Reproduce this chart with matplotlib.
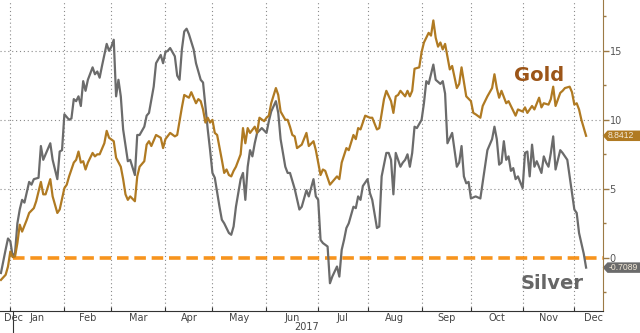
import numpy as np
import matplotlib
matplotlib.use("Agg")
import matplotlib.pyplot as plt
import matplotlib.transforms as mtransforms
from matplotlib.patches import Polygon

# trading sessions counted from the first session of 2017 (Mon 2 Jan 2017 = 0)
silver_day = [-5, -3, -2, -1, 0, 1, 2, 3, 4, 5, 7, 8, 9, 11, 12, 13, 14, 16, 17, 19,
              20, 21, 22, 24, 25, 26, 27, 28, 29, 30, 31, 32, 34, 35, 36, 37, 38, 40, 41, 42,
              43, 44, 45, 46, 47, 49, 50, 52, 53, 54, 56, 57, 58, 60, 61, 63, 64, 65, 66, 67,
              69, 70, 71, 72, 73, 74, 75, 77, 78, 80, 81, 82, 83, 84, 85, 86, 88, 89, 90, 92,
              93, 94, 95, 97, 98, 99, 100, 101, 102, 103, 104, 106, 108, 109, 110, 112, 113, 114, 116, 117,
              118, 120, 122, 123, 125, 126, 128, 129, 130, 131, 132, 134, 135, 136, 138, 139, 140, 141, 142, 143,
              145, 146, 147, 148, 149, 151, 152, 153, 155, 156, 157, 159, 160, 161, 162, 163, 165, 166, 167, 168,
              169, 170, 171, 172, 174, 175, 176, 177, 179, 180, 182, 183, 184, 185, 187, 189, 190, 191, 192, 193,
              194, 195, 197, 199, 201, 202, 204, 205, 206, 207, 208, 209, 210, 211, 212, 213, 214, 215, 217, 218,
              219, 220, 221, 222, 223, 225, 226, 227, 228, 229, 230, 231, 233, 234, 235, 236, 238, 239, 240, 241,
              243, 244]
silver_val = [-1.1, 0.6, 1.4, 1.2, 0.1, 0.35, 2.5, 3.5, 4.2, 4.0, 5.5, 5.3, 5.7, 5.8, 8.1, 7.1, 7.5, 8.3, 7.1, 5.7,
              7.7, 7.8, 10.4, 10.0, 10.1, 11.5, 11.35, 11.7, 11.0, 12.8, 12.1, 12.9, 13.8, 13.3, 13.5, 13.05, 13.9, 15.5, 15.0, 15.3,
              15.8, 11.7, 12.9, 11.7, 9.3, 7.0, 7.1, 6.0, 8.9, 8.9, 9.5, 10.3, 10.5, 12.4, 14.1, 14.7, 14.1, 14.9, 15.0, 15.2,
              14.6, 13.2, 12.9, 15.1, 16.4, 16.6, 16.2, 15.1, 14.1, 12.9, 12.7, 11.0, 9.3, 7.8, 6.15, 5.8, 3.7, 2.76, 2.5, 1.8,
              1.67, 2.27, 3.7, 5.7, 6.15, 4.2, 6.6, 7.8, 7.35, 8.3, 9.05, 9.4, 9.05, 9.9, 10.6, 11.35, 10.5, 8.6, 6.6, 6.15,
              6.15, 5.0, 3.5, 3.7, 4.9, 4.45, 5.7, 4.45, 4.2, 1.3, 1.07, 0.82, -1.84, -1.36, -0.63, -1.36, 0.58, 1.3, 2.16, 2.5,
              3.7, 3.6, 4.45, 4.2, 5.2, 5.7, 4.7, 4.2, 2.16, 2.27, 5.9, 7.6, 7.6, 7.1, 4.6, 7.6, 6.6, 6.9, 7.1, 7.5,
              6.6, 7.6, 9.5, 9.4, 10.0, 11.2, 12.8, 12.6, 14.0, 12.9, 12.6, 12.8, 11.9, 8.3, 9.05, 6.6, 6.9, 8.1, 5.9, 5.4,
              5.5, 4.3, 4.45, 4.3, 6.6, 7.8, 8.6, 9.5, 8.6, 6.75, 6.9, 8.45, 7.1, 7.35, 6.3, 6.5, 5.7, 5.9, 5.05, 7.6,
              7.7, 5.9, 8.2, 6.6, 7.0, 6.15, 7.35, 6.9, 6.6, 7.6, 8.8, 6.4, 7.8, 7.6, 7.35, 7.1, 4.7, 3.5, 3.25, 1.8,
              0.3, -0.7089]

gold_day = [-5, -3, -2, -1, 0, 1, 2, 3, 4, 6, 7, 9, 10, 12, 13, 14, 16, 17, 19, 20,
            22, 23, 24, 26, 27, 28, 29, 30, 31, 32, 34, 35, 36, 37, 39, 40, 41, 43, 44, 46,
            47, 48, 49, 50, 52, 53, 54, 56, 57, 58, 59, 61, 63, 64, 65, 67, 69, 70, 72, 73,
            74, 75, 76, 78, 79, 80, 81, 82, 83, 84, 85, 86, 87, 89, 90, 91, 92, 93, 94, 95,
            97, 98, 99, 100, 101, 103, 104, 105, 107, 108, 109, 110, 112, 113, 114, 116, 117, 118, 119, 120,
            121, 123, 125, 126, 128, 129, 131, 132, 133, 135, 136, 138, 139, 140, 142, 143, 145, 146, 147, 148,
            150, 152, 153, 155, 156, 158, 159, 161, 162, 163, 164, 165, 167, 168, 169, 170, 171, 173, 174, 175,
            177, 178, 179, 180, 181, 182, 183, 184, 186, 187, 189, 190, 191, 193, 195, 196, 197, 199, 200, 202,
            204, 205, 206, 207, 208, 210, 211, 212, 214, 215, 217, 218, 219, 221, 222, 224, 225, 226, 228, 229,
            230, 231, 233, 234, 235, 237, 238, 239, 240, 241, 242, 244]
gold_val = [-1.6, -1.23, -0.63, 0.46, 0.05, 0.1, 1.07, 2.4, 1.9, 2.76, 3.25, 3.6, 4.1, 5.5, 4.6, 4.6, 5.7, 4.45, 3.25, 3.5,
            5.05, 5.3, 5.9, 6.9, 7.1, 7.7, 6.9, 7.0, 6.4, 6.9, 7.6, 7.35, 7.5, 7.5, 8.3, 9.2, 8.7, 8.45, 7.25, 6.6,
            5.7, 4.6, 4.2, 4.45, 4.1, 5.9, 6.6, 7.0, 8.2, 8.45, 8.1, 8.9, 8.7, 7.95, 8.6, 9.05, 8.8, 8.9, 10.9, 11.8,
            11.7, 11.6, 12.0, 11.2, 11.5, 11.35, 10.75, 9.8, 10.15, 9.8, 10.0, 9.05, 8.9, 7.1, 6.15, 6.4, 6.0, 5.9, 6.3, 6.6,
            7.5, 9.4, 8.3, 9.4, 9.05, 9.5, 9.05, 10.15, 9.9, 10.15, 10.3, 11.2, 12.3, 11.8, 10.6, 10.0, 10.0, 9.5, 8.9, 8.8,
            7.95, 8.2, 9.05, 8.1, 8.45, 7.8, 6.0, 6.4, 6.3, 5.3, 5.5, 5.9, 5.7, 6.9, 7.95, 7.8, 8.9, 8.6, 9.4, 9.3,
            10.3, 10.15, 10.15, 9.3, 9.4, 11.5, 12.1, 11.35, 10.5, 11.7, 11.8, 12.1, 11.7, 12.1, 11.7, 12.1, 13.7, 13.8, 14.9, 15.6,
            16.3, 16.1, 17.2, 15.95, 15.3, 15.6, 15.1, 15.5, 13.65, 13.9, 12.3, 12.6, 13.8, 11.7, 11.35, 10.5, 10.4, 10.15, 11.0, 11.7,
            12.3, 13.3, 12.3, 11.6, 12.1, 11.2, 11.35, 11.0, 10.3, 10.75, 10.6, 10.9, 10.5, 11.0, 10.75, 11.6, 10.9, 11.2, 11.1, 11.5,
            12.4, 11.0, 11.95, 12.1, 12.3, 12.4, 12.0, 11.1, 11.2, 10.75, 10.0, 8.8412]

month_starts = ["2017-01-01", "2017-02-01", "2017-03-01", "2017-04-01", "2017-05-01", "2017-06-01",
                "2017-07-01", "2017-08-01", "2017-09-01", "2017-10-01", "2017-11-01", "2017-12-01"]
month_names = ["Jan", "Feb", "Mar", "Apr", "May", "Jun", "Jul", "Aug", "Sep", "Oct", "Nov"]

GOLD = "#b07a22"
SILVER = "#6b6b6b"
ORANGE = "#f7941d"
AXIS_BROWN = "#9c7a45"

plt.rcParams["font.family"] = ["DejaVu Sans"]

fig = plt.figure(figsize=(6.4, 3.33), dpi=100)
ax = fig.add_axes([0.0, 0.067, 0.9417, 0.933])

grid_x = np.busday_count("2017-01-02", month_starts)

# grid
for gx in grid_x:
    ax.axvline(gx, color="#8a8a8a", lw=0.8, ls=(0, (1, 2.5)), zorder=1)
for gy in [5, 10, 15]:
    ax.axhline(gy, color="#8a8a8a", lw=0.8, ls=(0, (1, 2.5)), zorder=1)

# zero line
ax.plot([0, 260], [0, 0], color=ORANGE, lw=2.6, ls=(0, (3.2, 1.6)), zorder=2)

ax.plot(silver_day, silver_val, color=SILVER, lw=1.6, zorder=3)
ax.plot(gold_day, gold_val, color=GOLD, lw=1.6, zorder=4)

ax.set_xlim(-5.4, 251.06)
ax.set_ylim(-3.83, 18.68)

for s in ["left", "top"]:
    ax.spines[s].set_visible(False)
ax.spines["right"].set_color(AXIS_BROWN)
ax.spines["bottom"].set_color("#333333")

ax.yaxis.tick_right()
ax.set_yticks([0, 5, 10, 15])
ax.set_yticks([-2.5, 2.5, 7.5, 12.5, 17.5], minor=True)
ax.tick_params(axis="y", which="major", length=4, width=1, color=AXIS_BROWN,
               labelsize=7, labelcolor="#555555", pad=1)
ax.tick_params(axis="y", which="minor", length=2.5, width=1, color=AXIS_BROWN)

ax.set_xticks(grid_x)
ax.set_xticklabels([])
ax.tick_params(axis="x", which="major", direction="in", length=3, color="#333333")

# month labels at mid-month
trans = mtransforms.blended_transform_factory(ax.transData, ax.transAxes)
mids = (grid_x[:-1] + grid_x[1:]) / 2
lab_kw = dict(transform=trans, va="center", fontsize=7, color="#444444", clip_on=False)
for m, name in zip(mids, month_names):
    ax.text(m, -0.023, name, ha="center", **lab_kw)
ax.text(-3.8, -0.023, "Dec", ha="left", **lab_kw)
ax.text(251.0, -0.023, "Dec", ha="right", **lab_kw)
ax.text((grid_x[0] + 251.06) / 2, -0.054, "2017", ha="center", **lab_kw)
ax.plot([0, 0], [0, -0.075], transform=trans, color="#333333", lw=0.8, clip_on=False)

# series labels
ax.text(224, 13.2, "Gold", color="#9c5518", fontsize=14, fontweight="bold",
        ha="center", va="center")
ax.text(229.4, -1.84, "Silver", color="#666666", fontsize=14, fontweight="bold",
        ha="center", va="center")

# last value tags
tagt = mtransforms.blended_transform_factory(ax.transAxes, ax.transData)
for val, col in [(gold_val[-1], GOLD), (silver_val[-1], SILVER)]:
    h = 0.38
    poly = Polygon([(1.0, val), (1.008, val + h), (1.075, val + h), (1.075, val - h), (1.008, val - h)],
                   closed=True, transform=tagt, facecolor=col, edgecolor="none", clip_on=False)
    ax.add_patch(poly)
    ax.text(1.009, val, f"{val:.4f}", transform=tagt, ha="left", va="center",
            fontsize=6.2, family="Liberation Sans", color="#f4ead8", clip_on=False)

fig.savefig("out.png", dpi=100)
